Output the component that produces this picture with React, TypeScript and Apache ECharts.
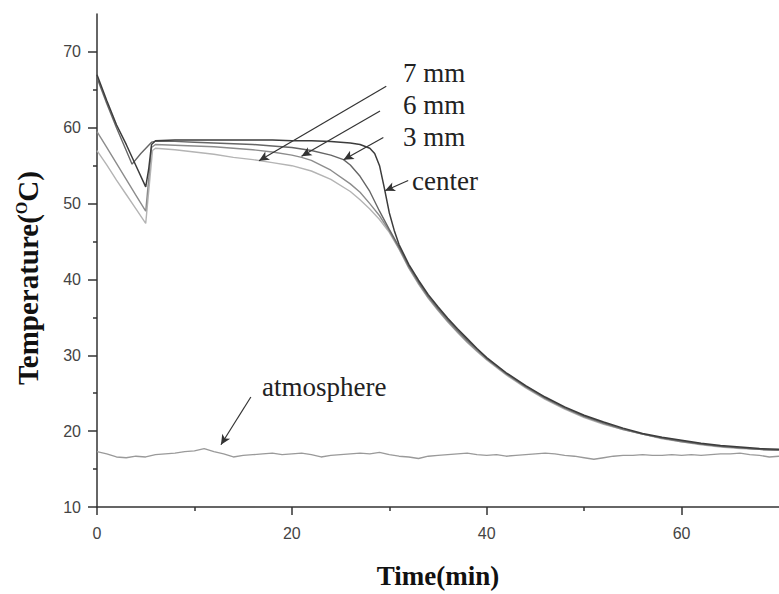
import React, { useEffect, useRef } from "react";
import * as echarts from "echarts";

// ---- data (time in min, temperature in °C) ----
const centerTime = [0, 1, 2, 3, 4, 5, 5.3, 5.6, 6, 8, 10, 12, 14, 16, 18, 20, 22, 24, 26, 27, 28, 28.5, 29, 29.5, 30, 30.5, 31, 32, 33, 34, 35, 36, 37, 38, 39, 40, 42, 44, 46, 48, 50, 52, 54, 56, 58, 60, 62, 64, 66, 68, 70];
const centerTemp = [67.0, 63.6, 60.4, 57.8, 55.0, 52.2, 54.5, 57.8, 58.3, 58.4, 58.4, 58.4, 58.4, 58.4, 58.4, 58.3, 58.3, 58.2, 58.0, 57.8, 57.3, 56.6, 55.0, 52.0, 48.8, 46.5, 44.6, 42.0, 39.9, 38.0, 36.4, 34.9, 33.5, 32.2, 30.9, 29.7, 27.7, 26.0, 24.5, 23.2, 22.1, 21.2, 20.4, 19.7, 19.2, 18.8, 18.4, 18.1, 17.9, 17.7, 17.6];

const mm3Time = [0, 1, 2, 3, 3.6, 4.5, 5.6, 6, 8, 10, 12, 14, 16, 18, 20, 22, 24, 25.3, 26, 27, 28, 29, 30, 31, 32, 33, 34, 35, 36, 37, 38, 39, 40, 42, 44, 46, 48, 50, 52, 54, 56, 58, 60, 62, 64, 66, 68, 70];
const mm3Temp = [66.6, 63.2, 60.0, 57.0, 55.2, 56.6, 58.1, 58.2, 58.2, 58.1, 58.0, 57.9, 57.8, 57.6, 57.4, 57.0, 56.4, 55.8, 55.1, 53.6, 51.6, 49.0, 46.6, 44.3, 41.8, 39.7, 37.8, 36.2, 34.7, 33.3, 32.0, 30.8, 29.6, 27.6, 25.9, 24.4, 23.1, 22.0, 21.1, 20.3, 19.6, 19.1, 18.7, 18.3, 18.0, 17.8, 17.6, 17.5];

const mm6Time = [0, 1, 2, 3, 4, 5, 5.6, 6, 8, 10, 12, 14, 16, 18, 20, 21, 22, 24, 26, 27, 28, 29, 30, 31, 32, 33, 34, 35, 36, 37, 38, 39, 40, 42, 44, 46, 48, 50, 52, 54, 56, 58, 60, 62, 64, 66, 68, 70];
const mm6Temp = [59.5, 57.4, 55.3, 53.2, 51.1, 49.0, 57.4, 57.8, 57.7, 57.6, 57.5, 57.3, 57.1, 56.8, 56.4, 56.1, 55.7, 54.4, 52.6, 51.5, 50.0, 48.4, 46.4, 44.1, 41.6, 39.5, 37.6, 36.0, 34.5, 33.1, 31.8, 30.6, 29.5, 27.5, 25.8, 24.3, 23.0, 21.9, 21.0, 20.2, 19.6, 19.1, 18.6, 18.3, 18.0, 17.8, 17.6, 17.5];

const mm7Time = [0, 1, 2, 3, 4, 5, 5.7, 6, 8, 10, 12, 14, 16, 18, 20, 22, 24, 26, 27, 28, 29, 30, 31, 32, 33, 34, 35, 36, 37, 38, 39, 40, 42, 44, 46, 48, 50, 52, 54, 56, 58, 60, 62, 64, 66, 68, 70];
const mm7Temp = [57.0, 55.1, 53.1, 51.2, 49.3, 47.4, 57.0, 57.3, 57.1, 56.8, 56.5, 56.1, 55.8, 55.4, 55.0, 54.3, 53.2, 51.6, 50.5, 49.3, 47.9, 46.2, 44.0, 41.5, 39.4, 37.5, 35.9, 34.4, 33.0, 31.7, 30.5, 29.4, 27.4, 25.7, 24.2, 22.9, 21.8, 20.9, 20.2, 19.6, 19.0, 18.6, 18.2, 17.9, 17.7, 17.6, 17.5];

const atmTime = [0, 1, 2, 3, 4, 5, 6, 7, 8, 9, 10, 11, 12, 13, 14, 15, 16, 17, 18, 19, 20, 21, 22, 23, 24, 25, 26, 27, 28, 29, 30, 31, 32, 33, 34, 35, 36, 37, 38, 39, 40, 41, 42, 43, 44, 45, 46, 47, 48, 49, 50, 51, 52, 53, 54, 55, 56, 57, 58, 59, 60, 61, 62, 63, 64, 65, 66, 67, 68, 69, 70];
const atmTemp = [17.3, 17.0, 16.6, 16.5, 16.7, 16.6, 16.9, 17.0, 17.1, 17.3, 17.4, 17.7, 17.3, 17.0, 16.6, 16.8, 16.9, 17.0, 17.1, 16.9, 17.0, 17.1, 16.9, 16.6, 16.8, 16.9, 17.0, 17.1, 17.0, 17.2, 16.9, 16.7, 16.6, 16.4, 16.7, 16.8, 16.9, 17.0, 17.1, 16.9, 16.8, 16.9, 16.7, 16.8, 16.9, 17.0, 17.1, 17.0, 16.8, 16.7, 16.5, 16.3, 16.5, 16.7, 16.8, 16.8, 16.9, 16.8, 16.8, 16.9, 16.8, 16.9, 16.8, 16.9, 17.0, 17.0, 17.1, 16.9, 16.8, 16.6, 16.7];

const xTickValues = [0, 20, 40, 60];
const xMinorValues = [10, 30, 50];
const yTickValues = [10, 20, 30, 40, 50, 60, 70];
const yMinorValues = [15, 25, 35, 45, 55, 65];

// annotation arrows: [from (time, temp), to (time, temp)]
const arrowNames = ["7 mm", "6 mm", "3 mm", "center", "atmosphere"];
const arrowFrom = [[29.69, 65.47], [29.05, 62.2], [29.39, 58.72], [31.94, 53.05], [15.79, 24.51]];
const arrowTo = [[16.63, 55.66], [20.99, 56.24], [25.31, 55.79], [29.56, 51.7], [12.72, 18.2]];

const zip = (t: number[], v: number[]) => t.map((x, i) => [x, v[i]]);

const SERIF = '"Liberation Serif", "Times New Roman", serif';
const SANS = '"Liberation Sans", Arial, sans-serif';

export default function App() {
  const ref = useRef<HTMLDivElement>(null);
  useEffect(() => {
    document.body.style.margin = "0";
    const chart = echarts.init(ref.current!, null, { renderer: "svg" });
    const axisLine = { show: true, lineStyle: { color: "#333", width: 1.5 } };
    const lineSeries = (name: string, data: number[][], color: string, width: number, z: number) => ({
      name,
      type: "line",
      data,
      xAxisIndex: 0,
      yAxisIndex: 0,
      showSymbol: false,
      symbol: "none",
      z,
      lineStyle: { color, width },
      emphasis: { disabled: true },
    });
    const annoText = (text: string, x: number, y: number) => ({
      type: "text",
      x,
      y,
      style: {
        text,
        fontFamily: SERIF,
        fontSize: 27,
        fill: "#222",
        align: "left",
        verticalAlign: "middle",
      },
    });
    chart.setOption({
      animation: false,
      backgroundColor: "#fff",
      grid: { left: 97, right: -4, top: 14, bottom: 83 },
      xAxis: [
        {
          type: "value",
          min: 0,
          max: 70,
          interval: 20,
          position: "bottom",
          axisLine,
          axisTick: { show: true, customValues: xTickValues, length: 8, lineStyle: { color: "#333", width: 1.5 } },
          axisLabel: {
            customValues: xTickValues,
            color: "#444",
            fontSize: 16,
            fontFamily: SANS,
            margin: 18,
            formatter: (v: number) => (v > 60 ? "" : String(v)),
          },
          splitLine: { show: false },
          name: "Time(min)",
          nameLocation: "middle",
          nameGap: 55,
          nameTextStyle: { fontFamily: SERIF, fontWeight: "bold", fontSize: 27, color: "#111" },
        },
        {
          type: "value",
          min: 0,
          max: 70,
          interval: 10,
          position: "bottom",
          axisLine: { show: false },
          axisTick: { show: true, customValues: xMinorValues, length: 4, lineStyle: { color: "#333", width: 1.5 } },
          axisLabel: { show: false },
          splitLine: { show: false },
        },
      ],
      yAxis: [
        {
          type: "value",
          min: 10,
          max: 75,
          interval: 10,
          position: "left",
          axisLine,
          axisTick: { show: true, customValues: yTickValues, length: 9, lineStyle: { color: "#333", width: 1.5 } },
          axisLabel: {
            customValues: yTickValues,
            color: "#444",
            fontSize: 16,
            fontFamily: SANS,
            margin: 16,
            formatter: (v: number) => (v > 70 ? "" : String(v)),
          },
          splitLine: { show: false },
        },
        {
          type: "value",
          min: 10,
          max: 75,
          interval: 5,
          position: "left",
          axisLine: { show: false },
          axisTick: { show: true, customValues: yMinorValues, length: 4, lineStyle: { color: "#333", width: 1.5 } },
          axisLabel: { show: false },
          splitLine: { show: false },
        },
      ],
      series: [
        {
          ...lineSeries("atmosphere", zip(atmTime, atmTemp), "#9a9a9a", 1.4, 1),
          markLine: {
            silent: true,
            symbol: ["none", "arrow"],
            symbolSize: [7, 10],
            label: { show: false },
            lineStyle: { color: "#333", width: 1.2, type: "solid" },
            emphasis: { disabled: true },
            data: arrowNames.map((n, i) => [
              { name: n, coord: arrowFrom[i] },
              { coord: arrowTo[i] },
            ]),
          },
        },
        lineSeries("7 mm", zip(mm7Time, mm7Temp), "#b4b4b4", 1.4, 2),
        lineSeries("6 mm", zip(mm6Time, mm6Temp), "#8c8c8c", 1.4, 3),
        lineSeries("3 mm", zip(mm3Time, mm3Temp), "#666666", 1.4, 4),
        lineSeries("center", zip(centerTime, centerTemp), "#3c3c3c", 1.5, 5),
      ],
      graphic: [
        annoText("7 mm", 403, 73),
        annoText("6 mm", 403, 105),
        annoText("3 mm", 403, 137),
        annoText("center", 412, 181),
        annoText("atmosphere", 262, 387),
        {
          type: "text",
          x: 28,
          y: 278,
          rotation: Math.PI / 2,
          style: {
            text: "{a|Temperature(}{s|O}{a|C)}",
            align: "center",
            verticalAlign: "middle",
            rich: {
              a: { fontFamily: SERIF, fontWeight: "bold", fontSize: 29, fill: "#111" },
              s: { fontFamily: SERIF, fontWeight: "bold", fontSize: 16, fill: "#111", verticalAlign: "top" },
            },
          },
        },
      ],
    });
    return () => chart.dispose();
  }, []);
  return <div ref={ref} style={{ width: 779, height: 594 }} />;
}
